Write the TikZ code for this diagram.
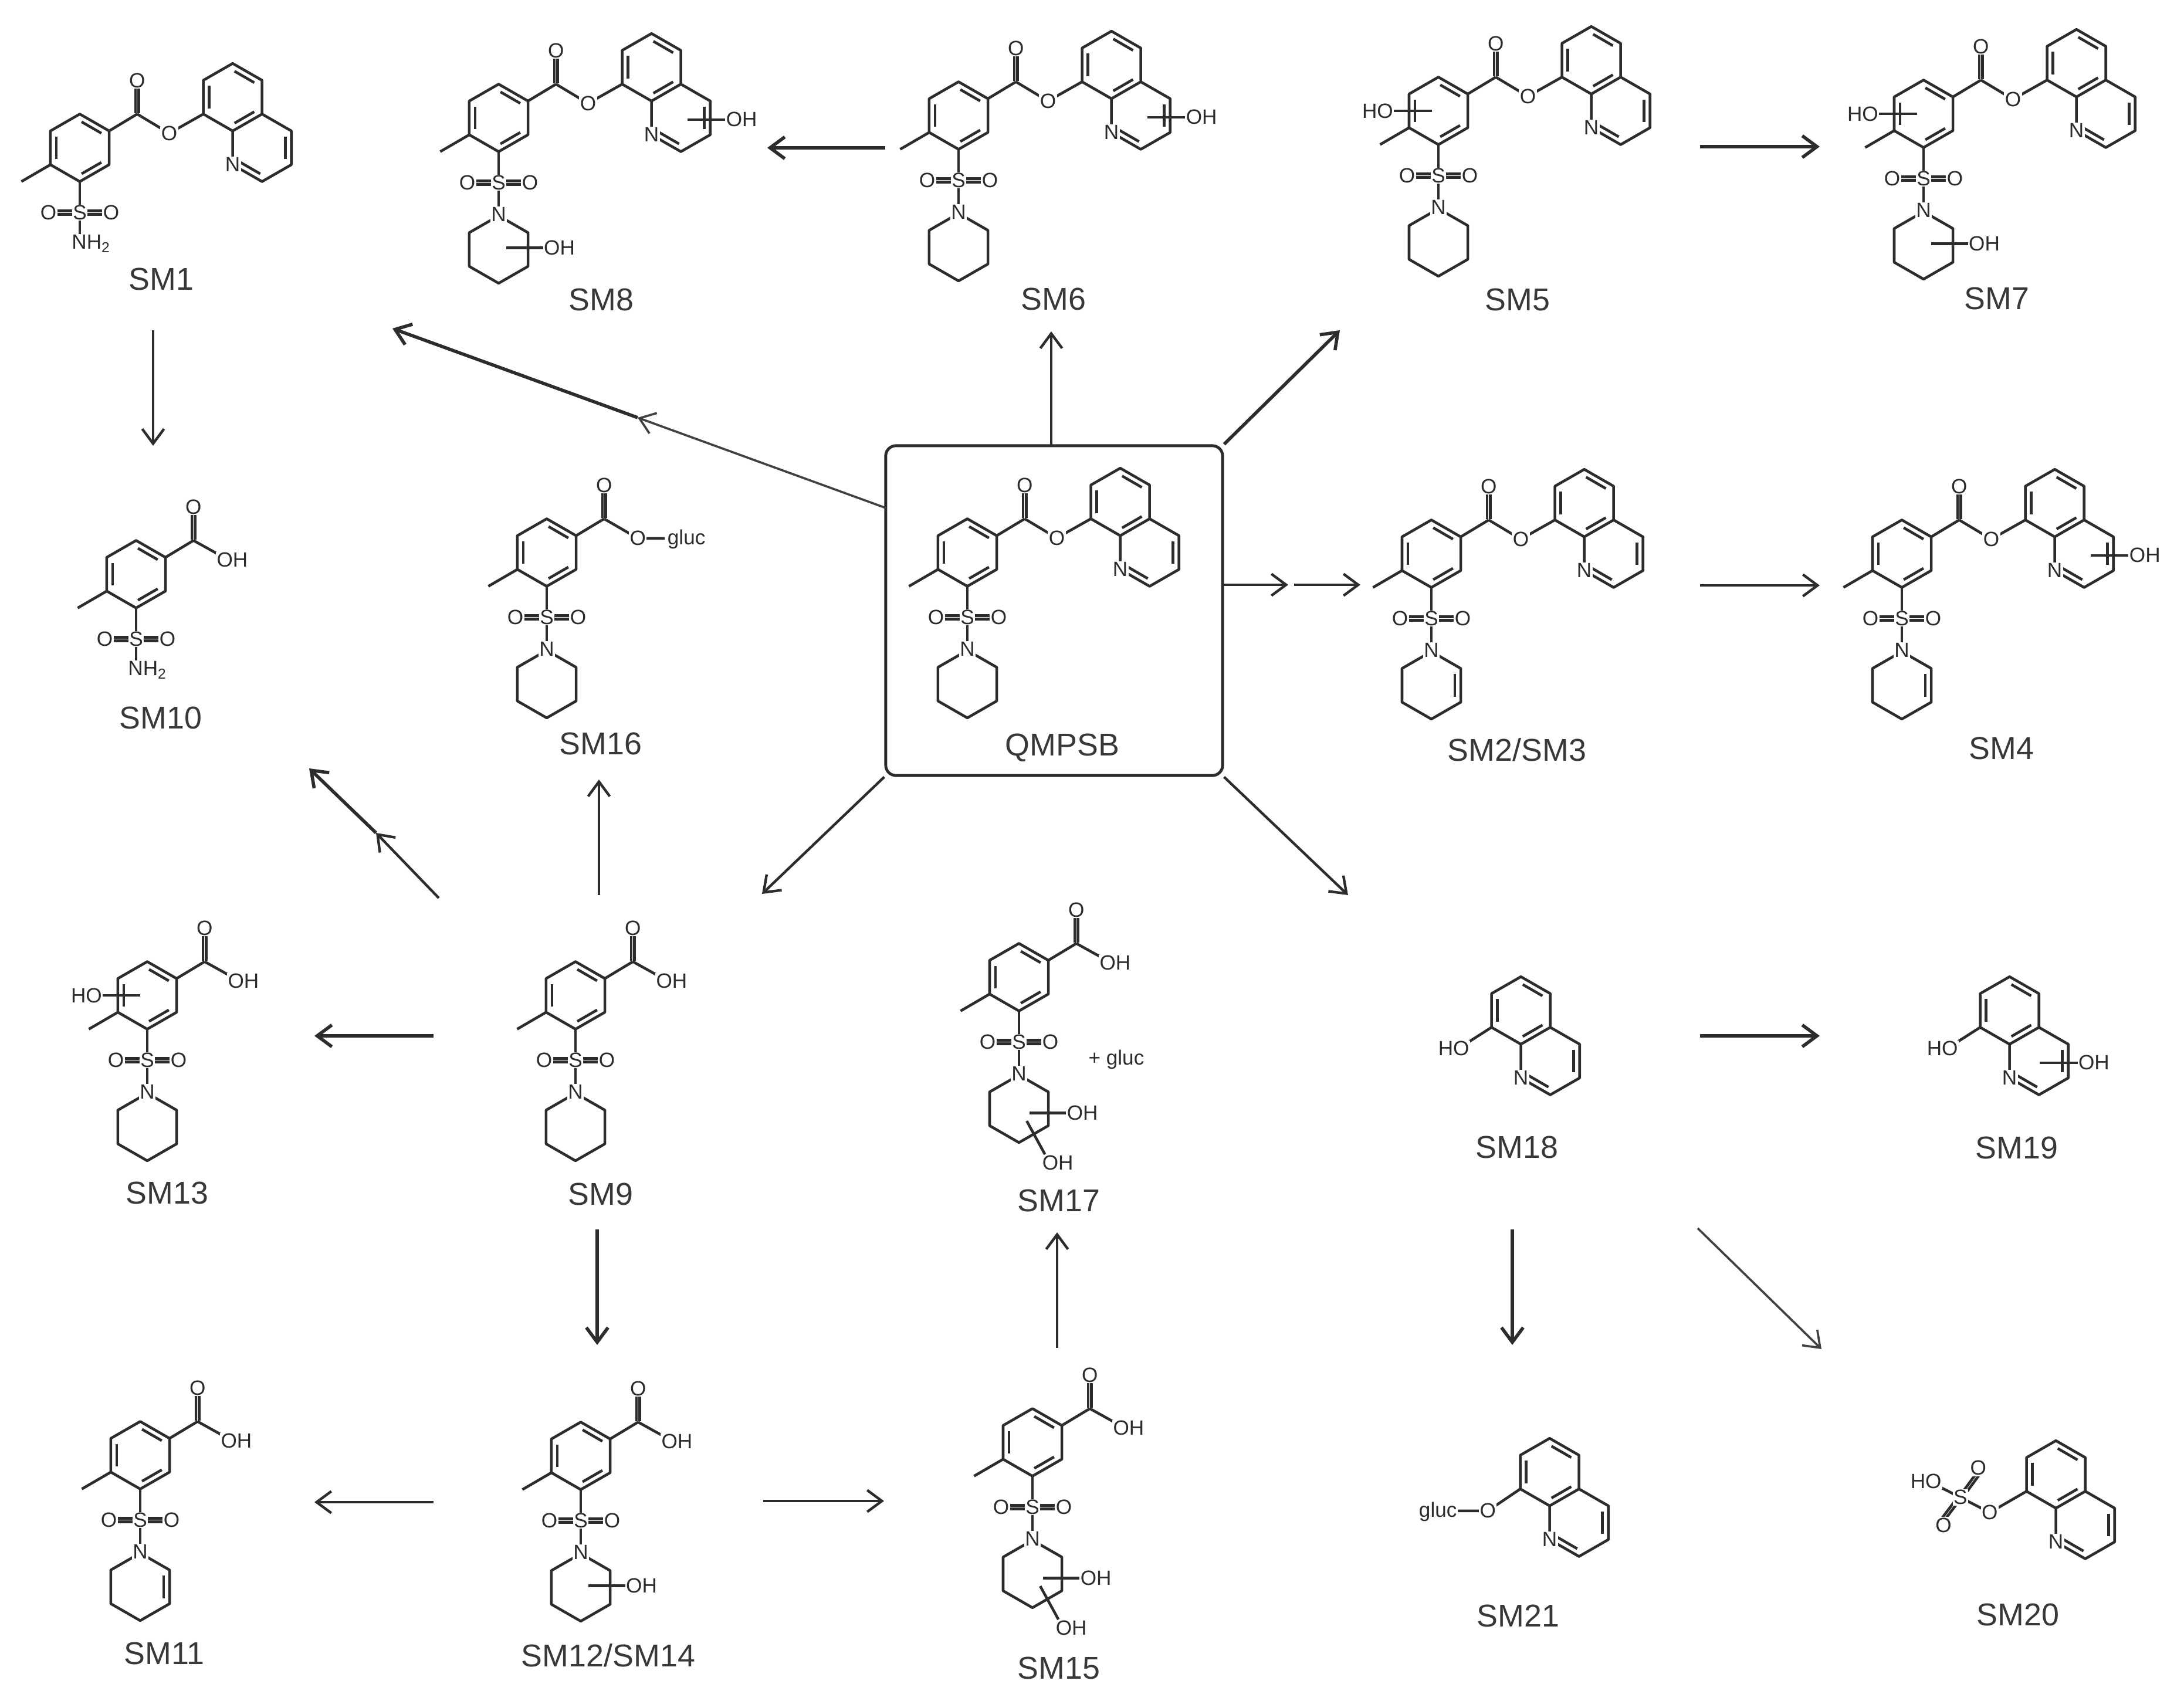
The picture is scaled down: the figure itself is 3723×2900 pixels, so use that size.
\documentclass[tikz,border=0pt]{standalone}
\usepackage{fontspec}
\setmainfont{Liberation Sans}
\usetikzlibrary{arrows.meta, positioning}
\definecolor{ink}{HTML}{2C2C2C}
\definecolor{greyink}{HTML}{383838}
\tikzset{
    chem/.style={x=0.575cm,y=0.575cm,line width=1.3pt,color=ink,line join=round},
    atom/.style={font=\fontsize{10}{10}\selectfont,fill=white,inner sep=0.4pt,text=ink},
    compound/.style={font=\fontsize{15.3}{16}\selectfont,inner sep=0pt,text=greyink},
    reaction/.style={->,>={Straight Barb[length=2.5mm,width=3.7mm]},line width=1.25pt,color=ink},
    heavy/.style={line width=1.6pt},
    faint/.style={line width=1.05pt,color=ink!90},
    tolyl/.pic={
        \draw (0,1) -- (.87,.5) -- (.87,-.5) -- (0,-1) -- (-.87,-.5) -- (-.87,.5) -- cycle;
        \inbond{0}{0}{60} \inbond{0}{0}{180} \inbond{0}{0}{300}
        \draw (-.87,-.5) -- (-1.73,-1);
        \draw (.87,.5) -- (1.7,1);
        \draw (1.65,1.02) -- (1.65,1.8);
        \draw (1.75,1.02) -- (1.75,1.8);
        \draw (0,-1) -- (0,-2.7);
        \node[atom] (oxo) at (1.7,2) {O};
    },
    sulfonyl/.pic={
        \draw (-.8,-1.87) -- (.8,-1.87);
        \draw (-.8,-1.97) -- (.8,-1.97);
        \node[atom] (sulfur) at (0,-1.92) {S};
        \node[atom] (oleft) at (-.93,-1.92) {O};
        \node[atom] (oright) at (.93,-1.92) {O};
    },
    amide/.pic={
        \node[atom] (amine) at (.34,-2.84) {NH\textsubscript{2}};
    },
    pip/.pic={
        \draw (0,-2.9) -- (.87,-3.4) -- (.87,-4.4) -- (0,-4.9) -- (-.87,-4.4) -- (-.87,-3.4) -- cycle;
        \node[atom] (nring) at (0,-2.86) {N};
    },
    pipene/.pic={
        \inbond{0}{-3.9}{0}
    },
    pipol/.pic={
        \draw (.22,-3.85) -- (1.4,-3.85);
        \node[atom] (ohpip) at (1.8,-3.85) {OH};
    },
    pipdiol/.pic={
        \draw (.32,-4.02) -- (1.5,-4.02);
        \node[atom] (ohone) at (1.88,-4.02) {OH};
        \draw (.23,-4.26) -- (.77,-5.25);
        \node[atom] (ohtwo) at (1.15,-5.5) {OH};
    },
    arylol/.pic={
        \draw (-1.45,0) -- (-.2,0);
        \node[atom] (oharyl) at (-1.8,0) {HO};
    },
    acid/.pic={
        \draw (1.7,1) -- (2.6,.5);
        \node[atom] (ohacid) at (2.85,.42) {OH};
    },
    estergluc/.pic={
        \draw (1.7,1) -- (2.7,.42) -- (3.5,.42);
        \node[atom] (oester) at (2.7,.42) {O};
        \node[atom] (gluc) at (4.14,.4) {gluc};
    },
    quin/.pic={
        \draw (4.53,.5) -- (3.66,1) -- (3.66,2) -- (4.53,2.5) -- (5.4,2) -- (5.4,1) -- cycle;
        \draw (5.4,1) -- (6.27,.5) -- (6.27,-.5) -- (5.4,-1) -- (4.53,-.5) -- (4.53,.5);
        \inbond{4.53}{1.5}{180} \inbond{4.53}{1.5}{60} \inbond{4.53}{1.5}{300}
        \inbond{5.4}{0}{0} \inbond{5.4}{0}{240}
        \node[atom] (nquin) at (4.53,-.5) {N};
    },
    ester/.pic={
        \draw (1.7,1) -- (2.65,.43) -- (3.66,1);
        \node[atom] (oester) at (2.65,.43) {O};
    },
    quinol/.pic={
        \draw (5.6,-.05) -- (6.8,-.05);
        \node[atom] (ohquin) at (7.2,-.05) {OH};
    },
    hydroxy/.pic={
        \draw (3.66,1) -- (2.8,.45);
        \node[atom] (oh) at (2.54,.37) {HO};
    },
}
\newcommand{\inbond}[3]{\draw ([shift={(#1,#2)}]#3-26:.772) -- ([shift={(#1,#2)}]#3+26:.772);}
\newcommand{\molecule}[3]{\begin{scope}[shift={#2},chem,name prefix=#1-]#3\end{scope}}
\begin{document}
\begin{tikzpicture}[x=0.01cm,y=-0.01cm]
    \useasboundingbox (0,0) rectangle (3723,2900);

    % top row
    \molecule{sm1}{(136,252)}{\pic{tolyl}; \pic{sulfonyl}; \pic{amide}; \pic{quin}; \pic{ester};}
    \molecule{sm8}{(850,201)}{\pic{tolyl}; \pic{pip}; \pic{sulfonyl}; \pic{quin}; \pic{ester}; \pic{quinol}; \pic{pipol};}
    \molecule{sm6}{(1634,197)}{\pic{tolyl}; \pic{pip}; \pic{sulfonyl}; \pic{quin}; \pic{ester}; \pic{quinol};}
    \molecule{sm5}{(2452,189)}{\pic{tolyl}; \pic{pip}; \pic{sulfonyl}; \pic{quin}; \pic{ester}; \pic{arylol};}
    \molecule{sm7}{(3279,194)}{\pic{tolyl}; \pic{pip}; \pic{sulfonyl}; \pic{quin}; \pic{ester}; \pic{arylol}; \pic{pipol};}
    \node[compound] (sm1) at (275,476) {SM1};
    \node[compound] (sm8) at (1025,511) {SM8};
    \node[compound] (sm6) at (1796,510) {SM6};
    \node[compound] (sm5) at (2587,511) {SM5};
    \node[compound] (sm7) at (3404,509) {SM7};

    % second row
    \molecule{sm10}{(232,979)}{\pic{tolyl}; \pic{acid}; \pic{sulfonyl}; \pic{amide};}
    \molecule{sm16}{(932,942)}{\pic{tolyl}; \pic{estergluc}; \pic{pip}; \pic{sulfonyl};}
    \molecule{qm}{(1649,942)}{\pic{tolyl}; \pic{pip}; \pic{sulfonyl}; \pic{quin}; \pic{ester};}
    \molecule{sm2}{(2440,944)}{\pic{tolyl}; \pic{pip}; \pic{pipene}; \pic{sulfonyl}; \pic{quin}; \pic{ester};}
    \molecule{sm4}{(3242,944)}{\pic{tolyl}; \pic{pip}; \pic{pipene}; \pic{sulfonyl}; \pic{quin}; \pic{ester}; \pic{quinol};}
    \node[compound] (sm10) at (274,1224) {SM10};
    \node[compound] (sm16) at (1024,1268) {SM16};
    \node[compound] (sm23) at (2586,1278) {SM2/SM3};
    \node[compound] (sm4) at (3412,1276) {SM4};
    \node[draw=ink,line width=1.4pt,rounded corners=5pt,minimum width=5.74cm,minimum height=5.62cm] (qmbox) at (1797,1041) {};
    \node[compound] (qmpsb) at (1811,1275) {QMPSB};

    % third row
    \molecule{sm13}{(251,1697)}{\pic{tolyl}; \pic{acid}; \pic{pip}; \pic{sulfonyl}; \pic{arylol};}
    \molecule{sm9}{(981,1697)}{\pic{tolyl}; \pic{acid}; \pic{pip}; \pic{sulfonyl};}
    \molecule{sm17}{(1737,1666)}{\pic{tolyl}; \pic{acid}; \pic{pip}; \pic{sulfonyl}; \pic{pipdiol};}
    \molecule{sm18}{(2332,1809)}{\pic{quin}; \pic{hydroxy};}
    \molecule{sm19}{(3165,1809)}{\pic{quin}; \pic{hydroxy}; \pic at (-.17,0) {quinol};}
    \node[compound] (sm13) at (285,2034) {SM13};
    \node[compound] (sm9) at (1024,2036) {SM9};
    \node[compound] (sm17) at (1805,2047) {SM17};
    \node[atom,fill=none] (sm17gluc) at (1903,1806) {+ gluc};
    \node[compound] (sm18) at (2586,1956) {SM18};
    \node[compound] (sm19) at (3438,1957) {SM19};

    % bottom row
    \molecule{sm11}{(239,2481)}{\pic{tolyl}; \pic{acid}; \pic{pip}; \pic{pipene}; \pic{sulfonyl};}
    \molecule{sm12}{(990,2482)}{\pic{tolyl}; \pic{acid}; \pic{pip}; \pic{sulfonyl}; \pic{pipol};}
    \molecule{sm15}{(1760,2459)}{\pic{tolyl}; \pic{acid}; \pic{pip}; \pic{sulfonyl}; \pic{pipdiol};}
    \molecule{sm21}{(2381,2596)}{
        \pic{quin};
        \draw (3.66,1) -- (2.7,.35) -- (1.8,.35);
        \node[atom] (oglyco) at (2.7,.35) {O};
        \node[atom] (gluc) at (1.22,.33) {gluc};
    }
    \molecule{sm20}{(3244,2600)}{
        \pic{quin};
        \draw (3.66,1) -- (2.57,.37) -- (1.7,.82) -- (.85,1.25);
        \draw (1.62,.82) -- (1.15,.2);
        \draw (1.74,.82) -- (1.27,.2);
        \draw (1.65,.82) -- (2.15,1.5);
        \draw (1.77,.82) -- (2.27,1.5);
        \node[atom] (osulf) at (2.57,.37) {O};
        \node[atom] (ssulf) at (1.7,.82) {S};
        \node[atom] (hosulf) at (.68,1.3) {HO};
        \node[atom] (otop) at (2.23,1.69) {O};
        \node[atom] (obot) at (1.2,0) {O};
    }
    \node[compound] (sm11) at (280,2819) {SM11};
    \node[compound] (sm12) at (1037,2822) {SM12/SM14};
    \node[compound] (sm15) at (1805,2844) {SM15};
    \node[compound] (sm21) at (2588,2755) {SM21};
    \node[compound] (sm20) at (3440,2753) {SM20};

    % free ends of the arrows
    \coordinate (a1) at (261,563);
    \coordinate (a2) at (261,760);
    \coordinate (b1) at (1510,866);
    \coordinate (b2) at (1087,712);
    \coordinate (b3) at (669,560);
    \coordinate (c1) at (1509,252);
    \coordinate (c2) at (1308,252);
    \coordinate (d1) at (1792,760);
    \coordinate (d2) at (1792,565);
    \coordinate (e1) at (2284,563);
    \coordinate (f1) at (2084,997);
    \coordinate (f2) at (2196,997);
    \coordinate (f3) at (2206,997);
    \coordinate (f4) at (2319,997);
    \coordinate (g1) at (2898,250);
    \coordinate (g2) at (3102,250);
    \coordinate (h1) at (2898,998);
    \coordinate (h2) at (3102,998);
    \coordinate (i1) at (1299,1524);
    \coordinate (j1) at (2298,1526);
    \coordinate (k1) at (748,1531);
    \coordinate (k2) at (641,1420);
    \coordinate (k3) at (527,1310);
    \coordinate (l1) at (1021,1526);
    \coordinate (l2) at (1021,1329);
    \coordinate (m1) at (739,1766);
    \coordinate (m2) at (536,1766);
    \coordinate (n1) at (1018,2096);
    \coordinate (n2) at (1018,2293);
    \coordinate (o1) at (739,2561);
    \coordinate (o2) at (536,2561);
    \coordinate (p1) at (1301,2559);
    \coordinate (p2) at (1507,2559);
    \coordinate (q1) at (1802,2298);
    \coordinate (q2) at (1802,2101);
    \coordinate (r1) at (2898,1766);
    \coordinate (r2) at (3102,1766);
    \coordinate (s1) at (2578,2096);
    \coordinate (s2) at (2578,2293);
    \coordinate (t1) at (2894,2094);
    \coordinate (t2) at (3105,2300);

    \draw[reaction] (a1) -- (a2);
    \draw[reaction,faint] (b1) -- (b2);
    \draw[reaction,heavy] (b2) -- (b3);
    \draw[reaction,heavy] (c1) -- (c2);
    \draw[reaction] (d1) -- (d2);
    \draw[reaction,heavy] (qmbox.north east) -- (e1);
    \draw[reaction] (f1) -- (f2);
    \draw[reaction] (f3) -- (f4);
    \draw[reaction,heavy] (g1) -- (g2);
    \draw[reaction] (h1) -- (h2);
    \draw[reaction] (qmbox.south west) -- (i1);
    \draw[reaction] (qmbox.south east) -- (j1);
    \draw[reaction] (k1) -- (k2);
    \draw[reaction,heavy] (k2) -- (k3);
    \draw[reaction] (l1) -- (l2);
    \draw[reaction,heavy] (m1) -- (m2);
    \draw[reaction,heavy] (n1) -- (n2);
    \draw[reaction] (o1) -- (o2);
    \draw[reaction] (p1) -- (p2);
    \draw[reaction] (q1) -- (q2);
    \draw[reaction,heavy] (r1) -- (r2);
    \draw[reaction,heavy] (s1) -- (s2);
    \draw[reaction,faint] (t1) -- (t2);
\end{tikzpicture}
\end{document}
